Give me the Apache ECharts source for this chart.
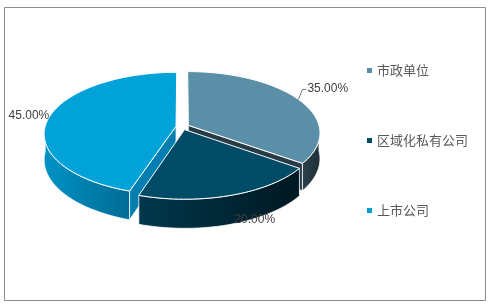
<!DOCTYPE html>
<html><head><meta charset="utf-8">
<script src="https://cdn.jsdelivr.net/npm/echarts@6/dist/echarts.min.js"></script>
<style>html,body{margin:0;padding:0;background:#fff}#main{width:493px;height:305px}</style>
</head><body><div id="main"></div>
<script>
// ---- data ----
var categories = ['市政单位', '区域化私有公司', '上市公司'];
var shares = [35, 20, 45];

// ---- styles ----
var topColors = ['#5B8FA7', '#004C66', '#00A2D7'];
var wallColors = [['#2B404C', '#1F2F38'], ['#00384D', '#001821'], ['#0092C5', '#006C95']];
var radialColors = ['#283A45', '#00293A', '#007FB0'];
var geo = {cx: 182.5, cy: 126.7, rx: 131, ry: 60.5, k: 0.12, depth: 25.5, explode: 0.05};
var labelPos = [
  {dx: 9, dy: -11, align: 'left', leader: true},
  {dx: 24, dy: 24, align: 'center'},
  {dx: 0, dy: -1.5, align: 'right'}
];

var total = shares.reduce(function (a, b) { return a + b; }, 0);
var starts = [], ends = [], acc = 0;
shares.forEach(function (v) {
  starts.push(acc / total * 2 * Math.PI);
  acc += v;
  ends.push(acc / total * 2 * Math.PI);
});

function proj(i, th, r, h) {
  var mid = (starts[i] + ends[i]) / 2;
  var X = r * Math.sin(th) + geo.explode * Math.sin(mid);
  var Z = r * Math.cos(th) + geo.explode * Math.cos(mid);
  var s = 1 / (1 + geo.k * Z);
  return [geo.cx + geo.rx * X * s, geo.cy - geo.ry * Z * s + geo.depth * h * s];
}
function arc(i, a, b, h, rev) {
  var n = Math.max(2, Math.ceil((b - a) / (Math.PI / 90)));
  var pts = [];
  for (var j = 0; j <= n; j++) pts.push(proj(i, a + (b - a) * j / n, 1, h));
  if (rev) pts.reverse();
  return pts;
}

function makeRender(i) {
  return function (params, api) {
    var a = starts[i], b = ends[i], mid = (a + b) / 2;
    var children = [];
    [[a, a - Math.PI / 2], [b, b + Math.PI / 2]].forEach(function (w) {
      if (Math.cos(w[1]) < -0.01) {
        children.push({type: 'polygon', z2: 1,
          shape: {points: [proj(i, 0, 0, 0), proj(i, w[0], 1, 0), proj(i, w[0], 1, 1), proj(i, 0, 0, 1)]},
          style: {fill: radialColors[i], stroke: '#fff', lineWidth: 0.8, lineJoin: 'round'}});
      }
    });
    var wa = Math.max(a, Math.PI / 2), wb = Math.min(b, 1.5 * Math.PI);
    if (wb > wa) {
      var pts = arc(i, wa, wb, 0).concat(arc(i, wa, wb, 1, true));
      var xs = pts.map(function (p) { return p[0]; });
      var x0 = Math.min.apply(null, xs), x1 = Math.max.apply(null, xs);
      children.push({type: 'polygon', z2: 2 + (1 - Math.cos((wa + wb) / 2)) / 10,
        shape: {points: pts},
        style: {fill: new echarts.graphic.LinearGradient(x0, 0, x1, 0,
          [{offset: 0, color: wallColors[i][0]}, {offset: 1, color: wallColors[i][1]}], true),
          stroke: '#fff', lineWidth: 0.8, lineJoin: 'round'}});
    }
    var top = [proj(i, 0, 0, 0)].concat(arc(i, a, b, 0));
    children.push({type: 'polygon', z2: 3, shape: {points: top},
      style: {fill: topColors[i], stroke: '#fff', lineWidth: 1, lineJoin: 'round'}});

    var anc = proj(i, mid, 1, 0);
    var lp = labelPos[i];
    if (lp.leader) {
      children.push({type: 'polyline', z2: 5,
        shape: {points: [anc, [anc[0] + 4, anc[1] - 10], [anc[0] + 8, anc[1] - 10]]},
        style: {stroke: '#808080', lineWidth: 1, fill: null}});
    }
    var pct = (api.value(0) / total * 100).toFixed(2) + '%';
    children.push({type: 'text', z2: 6, x: anc[0] + lp.dx, y: anc[1] + lp.dy,
      style: {text: pct, fill: '#404040', font: '12px "Liberation Sans", Arial, sans-serif',
        align: lp.align, verticalAlign: 'middle'}});
    return {type: 'group', children: children};
  };
}

var series = categories.map(function (name, i) {
  return {
    type: 'custom', name: name, coordinateSystem: 'none',
    itemStyle: {color: topColors[i]},
    renderItem: makeRender(i),
    data: [[shares[i]]],
    silent: true
  };
});

var chart = echarts.init(document.getElementById('main'), null, {renderer: 'canvas'});
chart.setOption({
  animation: false,
  backgroundColor: '#fff',
  graphic: [{type: 'rect', shape: {x: 4.5, y: 7.5, width: 481, height: 293},
    style: {fill: null, stroke: '#8C8C8C', lineWidth: 1}, silent: true}],
  legend: {
    orient: 'vertical', left: 367, top: 64, padding: 0,
    itemWidth: 5, itemHeight: 5, itemGap: 57, icon: 'rect',
    textStyle: {color: '#595959', fontSize: 13, fontFamily: '"Noto Sans CJK SC", sans-serif'},
    data: categories
  },
  series: series
});
</script>
</body></html>
